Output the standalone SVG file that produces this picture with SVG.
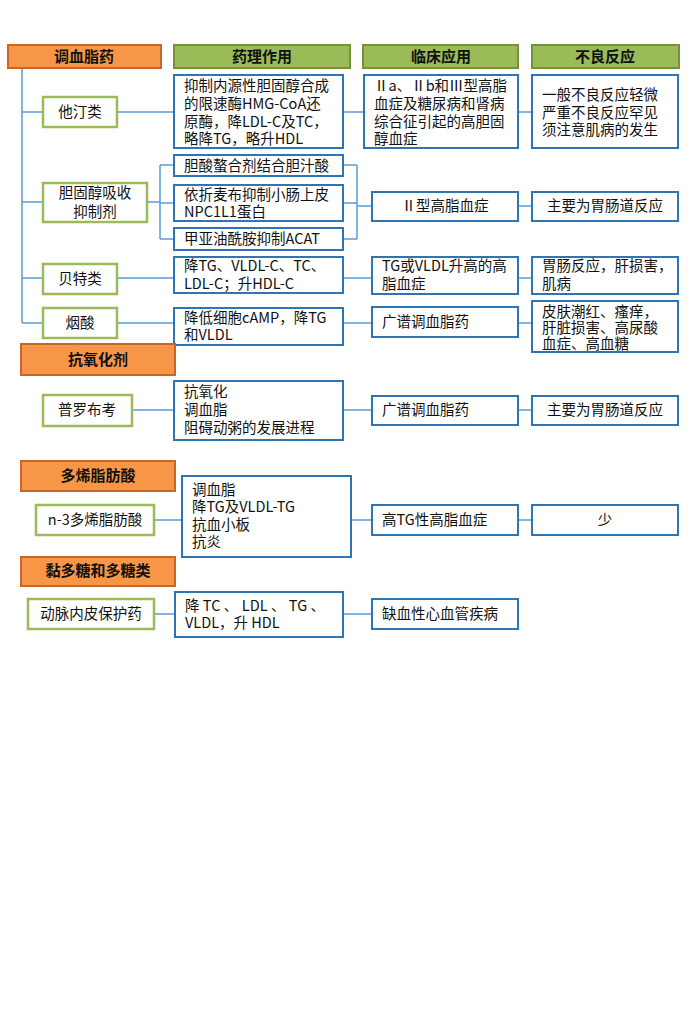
<svg xmlns="http://www.w3.org/2000/svg" width="700" height="1011" viewBox="0 0 700 1011">
<style>
text{font-family:"Noto Sans CJK SC","Microsoft YaHei",sans-serif;font-size:14.5px;fill:#111}
.h{font-weight:bold;font-size:15px;text-anchor:middle}
.c{text-anchor:middle}
.org{fill:#F79646;stroke:#C8662A;stroke-width:2}
.grh{fill:#9BBB59;stroke:#76923C;stroke-width:2}
.gn{fill:#fff;stroke:#9BBB59;stroke-width:2.5}
.bx{fill:#fff;stroke:#2E75B6;stroke-width:2}
.ln{stroke:#5B9BD5;stroke-width:1.5;fill:none}
</style>
<rect width="700" height="1011" fill="#fff"/>
<g id="connectors">
<path class="ln" d="M22 68V323M22 112H43M22 202H43M22 278H43M22 323H43"/>
<path class="ln" d="M117 112H174M343 112H364M518 112H532"/>
<path class="ln" d="M147 202H160M160 165V239M160 165H174M160 203H174M160 239H174M343 165H357M343 203H357M343 239H357M357 165V239M357 206H372M518 206H532"/>
<path class="ln" d="M117 278H174M343 278H372M518 278H532"/>
<path class="ln" d="M117 323H174M343 323H372M518 323H532"/>
<path class="ln" d="M132 410H174M343 410H372M518 410H532"/>
<path class="ln" d="M154 520H182M351 520H372M518 520H532"/>
<path class="ln" d="M154 614H175M343 614H372"/>
</g>
<g id="h1"><rect class="org" x="8" y="45" width="153" height="23"/><text class="h" x="84" y="62">调血脂药</text></g>
<g id="h2"><rect class="grh" x="174" y="45" width="176" height="23"/><text class="h" x="262" y="62">药理作用</text></g>
<g id="h3"><rect class="grh" x="363" y="45" width="155" height="23"/><text class="h" x="441" y="62">临床应用</text></g>
<g id="h4"><rect class="grh" x="532" y="45" width="147" height="23"/><text class="h" x="605" y="62">不良反应</text></g>

<g id="n-statin"><rect class="gn" x="43" y="97" width="74" height="30"/><text class="c" x="80" y="117">他汀类</text></g>
<g id="p-statin"><rect class="bx" x="174" y="75" width="169" height="73"/>
<text x="184" y="91">抑制内源性胆固醇合成</text><text x="184" y="109">的限速酶HMG-CoA还</text><text x="184" y="127">原酶，降LDL-C及TC，</text><text x="184" y="144">略降TG，略升HDL</text></g>
<g id="c-statin"><rect class="bx" x="364" y="75" width="154" height="73"/>
<text x="374" y="91">Ⅱa、Ⅱb和Ⅲ型高脂</text><text x="374" y="109">血症及糖尿病和肾病</text><text x="374" y="127">综合征引起的高胆固</text><text x="374" y="144">醇血症</text></g>
<g id="a-statin"><rect class="bx" x="532" y="75" width="146" height="73"/>
<text x="542" y="100">一般不良反应轻微</text><text x="542" y="118">严重不良反应罕见</text><text x="542" y="135">须注意肌病的发生</text></g>

<g id="n-abs"><rect class="gn" x="43" y="183" width="104" height="39"/><text class="c" x="95" y="198">胆固醇吸收</text><text class="c" x="95" y="217">抑制剂</text></g>
<g id="p-abs1"><rect class="bx" x="174" y="155" width="169" height="21"/><text x="184" y="171">胆酸螯合剂结合胆汁酸</text></g>
<g id="p-abs2"><rect class="bx" x="174" y="185" width="169" height="36"/><text x="184" y="200">依折麦布抑制小肠上皮</text><text x="184" y="217">NPC1L1蛋白</text></g>
<g id="p-abs3"><rect class="bx" x="174" y="228" width="169" height="22"/><text x="184" y="244">甲亚油酰胺抑制ACAT</text></g>
<g id="c-abs"><rect class="bx" x="372" y="192" width="146" height="29"/><text class="c" x="445" y="211">Ⅱ型高脂血症</text></g>
<g id="a-abs"><rect class="bx" x="532" y="192" width="146" height="29"/><text class="c" x="605" y="211">主要为胃肠道反应</text></g>

<g id="n-fib"><rect class="gn" x="43" y="264" width="74" height="30"/><text class="c" x="80" y="284">贝特类</text></g>
<g id="p-fib"><rect class="bx" x="174" y="257" width="169" height="36"/><text x="184" y="271">降TG、VLDL-C、TC、</text><text x="184" y="289">LDL-C；升HDL-C</text></g>
<g id="c-fib"><rect class="bx" x="372" y="257" width="146" height="37"/><text x="382" y="271">TG或VLDL升高的高</text><text x="382" y="289">脂血症</text></g>
<g id="a-fib"><rect class="bx" x="532" y="257" width="146" height="37"/><text x="542" y="271">胃肠反应，肝损害，</text><text x="542" y="289">肌病</text></g>

<g id="n-nia"><rect class="gn" x="43" y="308" width="74" height="30"/><text class="c" x="80" y="328">烟酸</text></g>
<g id="p-nia"><rect class="bx" x="174" y="308" width="169" height="37"/><text x="184" y="323">降低细胞cAMP，降TG</text><text x="184" y="340">和VLDL</text></g>
<g id="c-nia"><rect class="bx" x="372" y="307" width="146" height="30"/><text x="382" y="327">广谱调血脂药</text></g>
<g id="a-nia"><rect class="bx" x="532" y="301" width="146" height="51"/><text x="542" y="317">皮肤潮红、瘙痒，</text><text x="542" y="333">肝脏损害、高尿酸</text><text x="542" y="349">血症、高血糖</text></g>

<g id="h-anti"><rect class="org" x="21" y="344" width="154" height="31"/><text class="h" x="98" y="365">抗氧化剂</text></g>
<g id="n-pro"><rect class="gn" x="43" y="395" width="89" height="31"/><text class="c" x="87" y="415">普罗布考</text></g>
<g id="p-pro"><rect class="bx" x="174" y="381" width="169" height="59"/><text x="184" y="397">抗氧化</text><text x="184" y="415">调血脂</text><text x="184" y="433">阻碍动粥的发展进程</text></g>
<g id="c-pro"><rect class="bx" x="372" y="396" width="146" height="29"/><text x="382" y="415">广谱调血脂药</text></g>
<g id="a-pro"><rect class="bx" x="532" y="396" width="146" height="29"/><text class="c" x="605" y="415">主要为胃肠道反应</text></g>

<g id="h-pufa"><rect class="org" x="21" y="461" width="154" height="30"/><text class="h" x="98" y="481">多烯脂肪酸</text></g>
<g id="n-pufa"><rect class="gn" x="36" y="505" width="118" height="30"/><text class="c" x="95" y="525">n-3多烯脂肪酸</text></g>
<g id="p-pufa"><rect class="bx" x="182" y="476" width="169" height="81"/><text x="192" y="495">调血脂</text><text x="192" y="512">降TG及VLDL-TG</text><text x="192" y="530">抗血小板</text><text x="192" y="547">抗炎</text></g>
<g id="c-pufa"><rect class="bx" x="372" y="505" width="146" height="30"/><text x="382" y="525">高TG性高脂血症</text></g>
<g id="a-pufa"><rect class="bx" x="532" y="505" width="146" height="30"/><text class="c" x="605" y="525">少</text></g>

<g id="h-poly"><rect class="org" x="21" y="557" width="154" height="29"/><text class="h" x="98" y="576">黏多糖和多糖类</text></g>
<g id="n-endo"><rect class="gn" x="28" y="599" width="126" height="30"/><text class="c" x="91" y="619">动脉内皮保护药</text></g>
<g id="p-endo"><rect class="bx" x="175" y="592" width="168" height="45"/><text x="185" y="611" textLength="140" lengthAdjust="spacing">降 TC 、 LDL 、 TG 、</text><text x="185" y="628">VLDL，升 HDL</text></g>
<g id="c-endo"><rect class="bx" x="372" y="599" width="146" height="30"/><text x="382" y="619">缺血性心血管疾病</text></g>
</svg>
